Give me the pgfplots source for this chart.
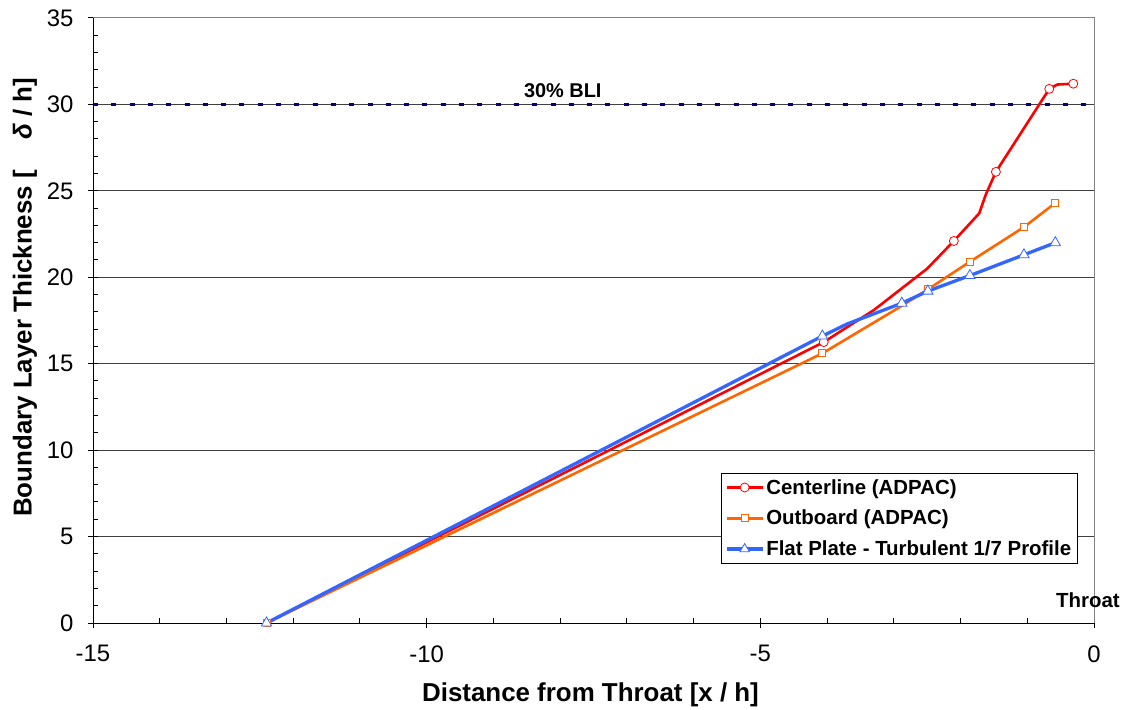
\documentclass[border=0pt]{standalone}
\usepackage{pgfplots}
\pgfplotsset{compat=1.18}
\usepackage{fontspec}
\setmainfont{Liberation Sans}
\definecolor{cred}{RGB}{255,0,0}
\definecolor{corange}{RGB}{255,102,0}
\definecolor{cblue}{RGB}{51,102,255}
\definecolor{cnavy}{RGB}{0,0,128}
\definecolor{cgrid}{RGB}{64,64,64}
\begin{document}
\begin{tikzpicture}
\useasboundingbox (0,0) rectangle (1127bp,710bp);
\begin{axis}[
  at={(93bp,87bp)}, anchor=south west,
  scale only axis, width=1001bp, height=605bp,
  xmin=-15, xmax=0, ymin=0, ymax=35,
  xtick={-15,-10,-5,0}, ytick={0,5,...,35},
  minor x tick num=4, minor y tick num=4,
  axis x line*=bottom, axis y line*=left,
  axis line style={black, line width=1bp, -},
  tick align=center, major tick length=10bp, minor tick length=5bp,
  every major tick/.style={black, line width=1bp},
  minor x tick style={black, line width=1bp, yshift=2.5bp},
  minor y tick style={black, line width=1bp, xshift=2.5bp},
  ymajorgrids, grid style={cgrid, line width=1bp},
  /pgf/number format/assume math mode=true,
  tick label style={font=\fontsize{24}{28}\selectfont},
  yticklabel style={xshift=-11bp},
  xticklabel style={yshift=-14bp},
  xlabel={\textbf{Distance from Throat [x / h]}},
  ylabel={\textbf{Boundary Layer Thickness [\hspace{30bp}\textit{δ} / h]}},
  label style={font=\fontsize{26}{30}\selectfont},
  xlabel style={at={(rel axis cs:0.497,0)}, anchor=center, yshift=-72bp},
  ylabel style={at={(rel axis cs:-0.068,0.538)}, anchor=center},
  legend style={at={(0.627,0.248)}, anchor=north west, draw=black, line width=0.8bp,
    font=\fontsize{20.5}{24}\selectfont\bfseries, row sep=10.5bp, inner xsep=4bp, inner ysep=4bp},
  legend cell align=left,
  legend image code/.code={\draw[#1, mark=none] (0bp,0bp) -- (36bp,0bp);
     \draw[#1, only marks] plot coordinates {(18bp,0bp)};},
  clip=false,
]
% border top/right
\draw[gray, line width=1bp] (rel axis cs:0,1) -- (rel axis cs:1,1) -- (rel axis cs:1,0);
% 30% BLI
\addplot[cnavy, line width=3bp, dash pattern=on 5bp off 13.3bp, forget plot] coordinates {(-15,30) (0,30)};
\node[anchor=south, inner sep=1bp, font=\fontsize{20}{24}\selectfont\bfseries] at (axis cs:-7.96,30.3) {30\% BLI};
\node[anchor=south, inner sep=1bp, font=\fontsize{20.5}{24}\selectfont\bfseries] at (axis cs:-0.09,0.8) {Throat};
% Centerline
\addplot[cred, line width=2.6bp, forget plot] coordinates {
 (-12.4,0) (-4.05,16.25) (-3.3,18.1) (-2.5,20.5) (-2.1,22.1) (-1.72,23.7) (-1.62,24.8) (-1.47,26.1) (-0.67,30.9) (-0.55,31.15) (-0.31,31.2)};
\addplot[only marks, mark=*, mark size=4.5bp, mark options={draw=cred, fill=white, line width=0.8bp}, forget plot] coordinates {
 (-4.05,16.25) (-2.1,22.1) (-1.47,26.1) (-0.67,30.9) (-0.31,31.2)};
% Outboard
\addplot[corange, line width=2.6bp, forget plot] coordinates {
 (-12.4,0) (-4.07,15.6) (-2.9,18.3) (-2.49,19.3) (-1.86,20.9) (-1.05,22.9) (-0.58,24.3)};
\addplot[only marks, mark=square*, mark size=3.5bp, mark options={draw=corange, fill=white, line width=0.8bp}, forget plot] coordinates {
 (-12.4,0) (-4.07,15.6) (-2.49,19.3) (-1.86,20.9) (-1.05,22.9) (-0.58,24.3)};
% Flat plate
\addplot[cblue, line width=3.3bp, forget plot] coordinates {
 (-12.4,0) (-4.07,16.6) (-3.7,17.3) (-2.88,18.5) (-2.49,19.2) (-1.86,20.1) (-1.05,21.3) (-0.58,22.0)};
\addplot[only marks, mark=triangle*, mark size=6bp, mark options={draw=cblue, fill=white, line width=0.8bp}, forget plot] coordinates {
 (-12.4,0) (-4.07,16.6) (-2.88,18.5) (-2.49,19.2) (-1.86,20.1) (-1.05,21.3) (-0.58,22.0)};
\addlegendimage{cred, line width=2.6bp, mark=*, mark size=4.5bp, mark options={draw=cred, fill=white, line width=0.8bp}}
\addlegendentry{Centerline (ADPAC)}
\addlegendimage{corange, line width=2.6bp, mark=square*, mark size=3.5bp, mark options={draw=corange, fill=white, line width=0.8bp}}
\addlegendentry{Outboard (ADPAC)}
\addlegendimage{cblue, line width=3.3bp, mark=triangle*, mark size=5.5bp, mark options={draw=cblue, fill=white, line width=0.8bp}}
\addlegendentry{Flat Plate - Turbulent 1/7 Profile}
\end{axis}
\end{tikzpicture}
\end{document}
